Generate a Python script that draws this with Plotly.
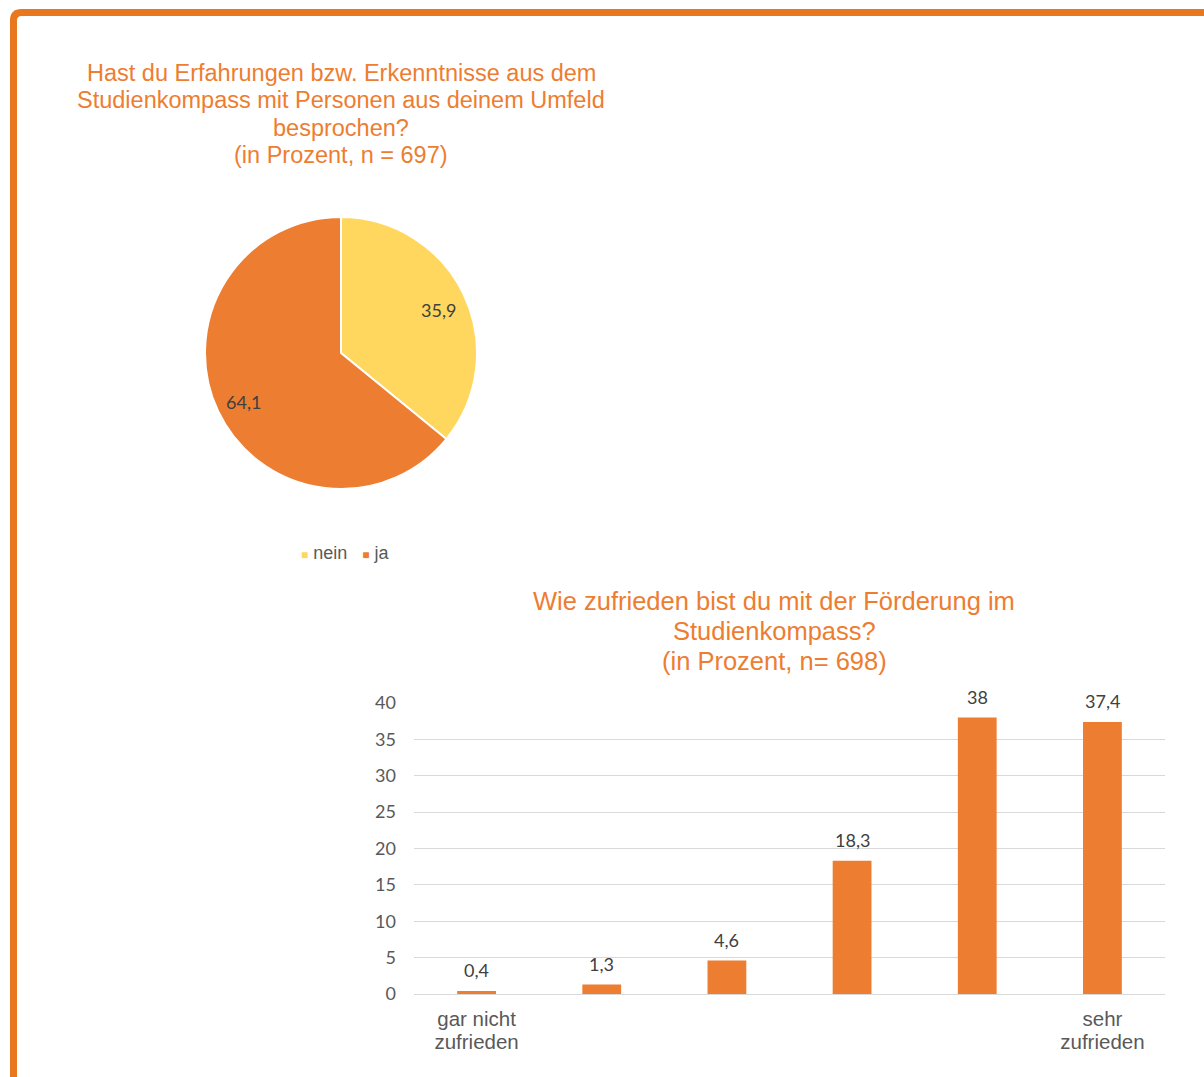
import math
import plotly.graph_objects as go

W, H = 1204, 1077

# ---- data ----
pie_labels = ["nein", "ja"]
pie_values = [35.9, 64.1]
pie_colors = ["#FFD75E", "#ED7D31"]

bar_categories = ["gar nicht<br>zufrieden", "", "", "", "", "sehr<br>zufrieden"]
bar_values = [0.4, 1.3, 4.6, 18.3, 38, 37.4]
y_ticks = [0, 5, 10, 15, 20, 25, 30, 35, 40]

title1_lines = ["Hast du Erfahrungen bzw. Erkenntnisse aus dem",
                "Studienkompass mit Personen aus deinem Umfeld",
                "besprochen?",
                "(in Prozent, n = 697)"]
title2_lines = ["Wie zufrieden bist du mit der Förderung im",
                "Studienkompass?",
                "(in Prozent, n= 698)"]

ORANGE = "#ED7D31"
LABEL_FONT = "Lato, 'Open Sans', sans-serif"
TITLE_FONT = "'Liberation Sans', Arial, sans-serif"


def px(x):
    return x / W


def py(y):
    return 1 - y / H


def fmt(v):
    return ("%g" % v).replace(".", ",")


fig = go.Figure()

# pie geometry (pixels)
cx, cy, r = 341, 353, 136
fig.add_trace(go.Pie(
    labels=pie_labels, values=pie_values, sort=False, direction="clockwise",
    rotation=0, marker=dict(colors=pie_colors, line=dict(color="white", width=2)),
    textinfo="none", hoverinfo="label+value",
    domain=dict(x=[px(cx - r), px(cx + r)], y=[py(cy + r), py(cy - r)]),
    showlegend=False,
))

annotations = []
# pie data labels along the mid-angle of each slice
total = sum(pie_values)
acc = 0
for lab, v in zip(pie_labels, pie_values):
    mid = (acc + v / 2) / total * 2 * math.pi
    acc += v
    d = 0.79 * r
    annotations.append(dict(
        x=px(cx + d * math.sin(mid)), y=py(cy - d * math.cos(mid) + 3),
        xref="paper", yref="paper", xanchor="center", yanchor="middle",
        text=fmt(v), showarrow=False,
        font=dict(family=LABEL_FONT, size=18, color="#404040"),
    ))

# legend (compact, like the original)
leg_parts = []
for lab, col in zip(pie_labels, pie_colors):
    leg_parts.append(f'<span style="color:{col};font-size:12px">■</span> {lab}')
annotations.append(dict(
    x=px(345), y=py(553), xref="paper", yref="paper", xanchor="center", yanchor="middle",
    text="   ".join(leg_parts), showarrow=False,
    font=dict(family=TITLE_FONT, size=18, color="#595959"),
))

fig.add_trace(go.Bar(
    x=list(range(len(bar_values))), y=bar_values, width=0.31,
    marker=dict(color=ORANGE, line=dict(width=0)),
    hoverinfo="y", showlegend=False, xaxis="x", yaxis="y",
))
# bar data labels
for i, v in enumerate(bar_values):
    annotations.append(dict(
        x=i, y=v, xref="x", yref="y", xanchor="center", yanchor="middle", yshift=21,
        text=fmt(v), showarrow=False,
        font=dict(family=LABEL_FONT, size=18, color="#404040"),
    ))

# titles (one annotation per line to get the original tight line spacing)
for k, line in enumerate(title1_lines):
    annotations.append(dict(
        x=px(341), y=py(73 + 27.3 * k), xref="paper", yref="paper",
        xanchor="center", yanchor="middle", text=line, showarrow=False,
        font=dict(family=TITLE_FONT, size=23.5, color=ORANGE),
    ))
for k, line in enumerate(title2_lines):
    annotations.append(dict(
        x=px(774), y=py(601 + 30 * k), xref="paper", yref="paper",
        xanchor="center", yanchor="middle", text=line, showarrow=False,
        font=dict(family=TITLE_FONT, size=25.5, color=ORANGE),
    ))

# category tick labels: two axes so the two lines can sit closer together
line1 = [c.split("<br>")[0] for c in bar_categories]
line2 = [c.split("<br>")[1] if "<br>" in c else "" for c in bar_categories]

# frame (top and left border with rounded corner)
fx, fy, rad = 13.5, 12.5, 8
frame_path = (f"M {px(fx)},0 L {px(fx)},{py(fy + rad)} "
              f"Q {px(fx)},{py(fy)} {px(fx + rad)},{py(fy)} L 1,{py(fy)}")

xdom = [px(414), px(1165)]
fig.update_layout(
    width=W, height=H, margin=dict(l=0, r=0, t=0, b=0, pad=0, autoexpand=False),
    paper_bgcolor="white", plot_bgcolor="white",
    annotations=annotations, showlegend=False,
    shapes=[dict(type="path", path=frame_path, xref="paper", yref="paper",
                 line=dict(color="#E8771E", width=7))],
    xaxis=dict(domain=xdom, range=[-0.5, 5.5],
               tickvals=list(range(len(bar_categories))), ticktext=line1,
               tickfont=dict(family=TITLE_FONT, size=20.5, color="#595959"),
               showgrid=False, zeroline=False, showline=False, ticks="",
               ticklabelstandoff=10),
    xaxis2=dict(domain=xdom, range=[-0.5, 5.5], overlaying="x", side="bottom",
                anchor="y", matches="x",
                tickvals=list(range(len(bar_categories))), ticktext=line2,
                tickfont=dict(family=TITLE_FONT, size=20.5, color="#595959"),
                showgrid=False, zeroline=False, showline=False, ticks="",
                ticklabelstandoff=33),
    yaxis=dict(domain=[py(994), py(703)], range=[0, 40], tickvals=y_ticks,
               tickfont=dict(family=LABEL_FONT, size=18, color="#595959"),
               showgrid=True, gridcolor="#D9D9D9", gridwidth=1,
               zeroline=True, zerolinecolor="#D9D9D9", zerolinewidth=1,
               showline=False, ticks="", ticklabelstandoff=17),
)
# invisible trace to show the second tick-label row
fig.add_trace(go.Scatter(x=[0], y=[0], xaxis="x2", yaxis="y", mode="markers",
                         marker=dict(opacity=0), hoverinfo="skip", showlegend=False))

fig.write_html("out.html")
